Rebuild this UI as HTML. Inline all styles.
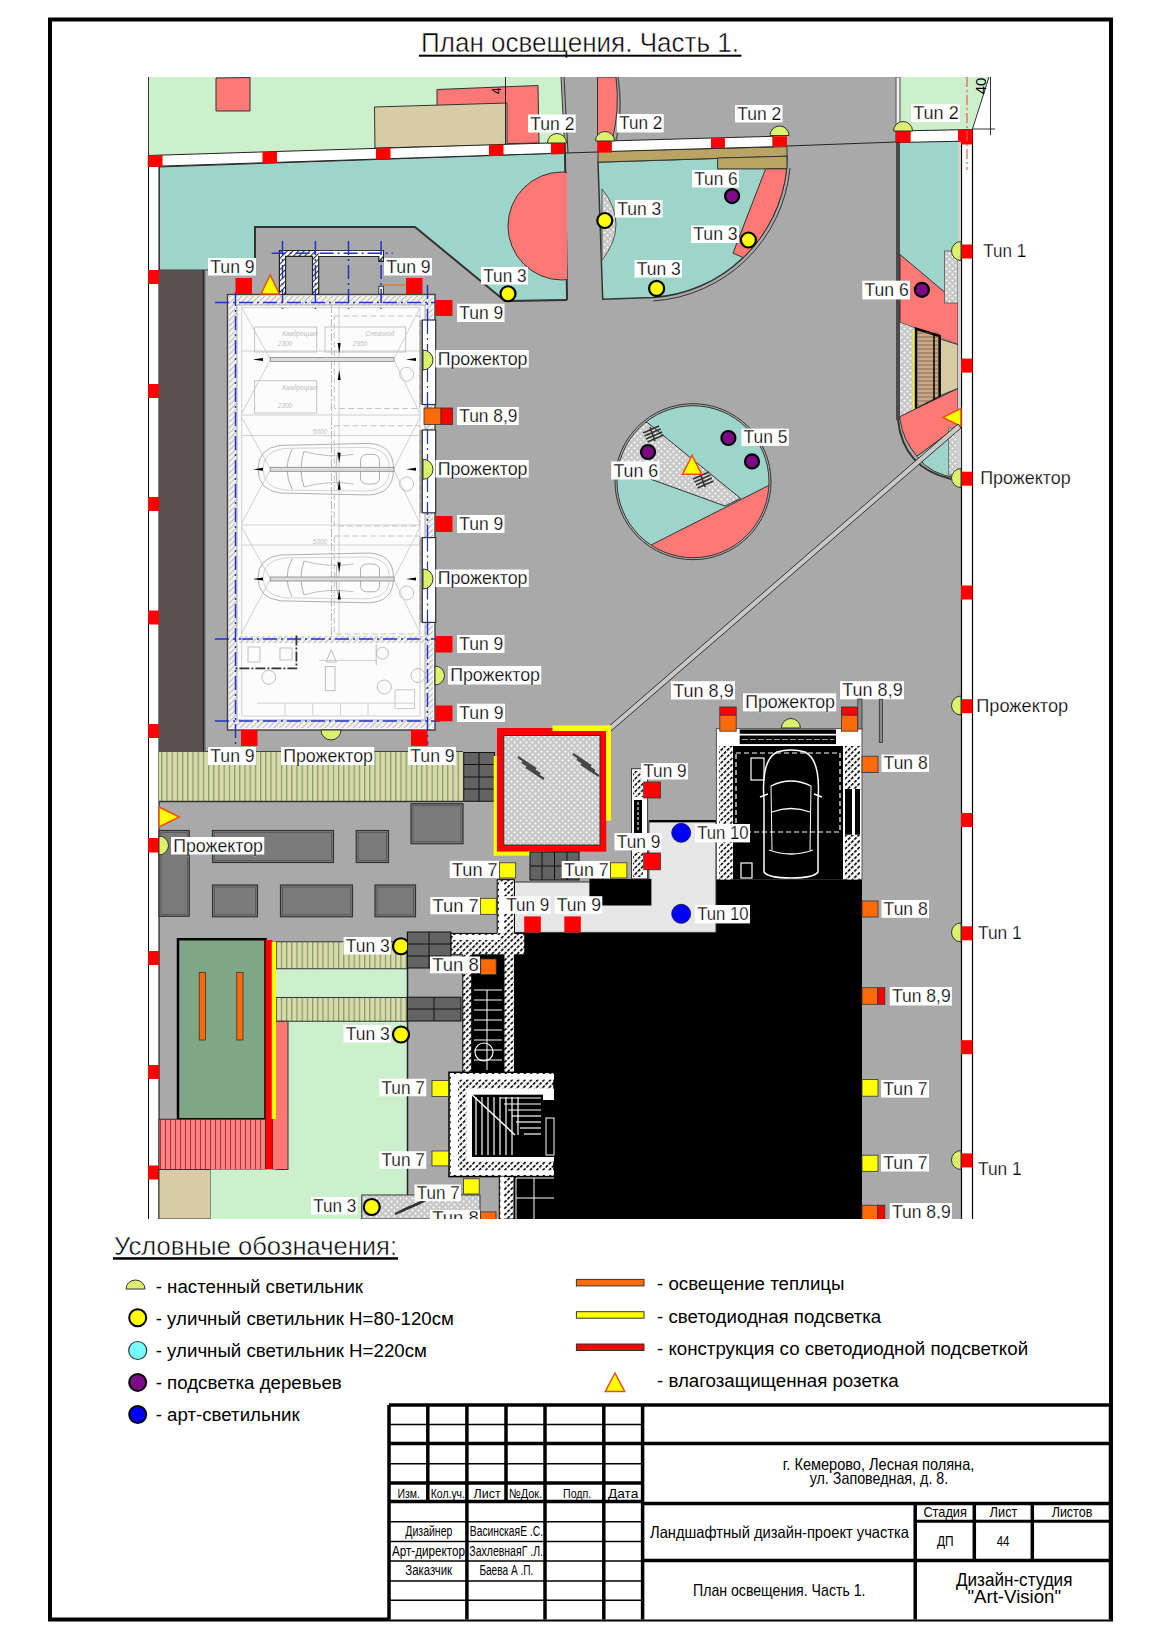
<!DOCTYPE html>
<html><head><meta charset="utf-8"><style>
html,body{margin:0;padding:0;background:#fff;}
svg{display:block;}
text{font-family:"Liberation Sans",sans-serif;}
</style></head><body>
<svg width="1160" height="1640" viewBox="0 0 1160 1640">
<rect x="0" y="0" width="1160" height="1640" fill="#fff" stroke="none" stroke-width="1" />
<defs>
<pattern id="grav" width="6" height="6" patternUnits="userSpaceOnUse"><rect width="6" height="6" fill="#c8c8c8"/><circle cx="1.5" cy="1.5" r="1" fill="#fff"/><circle cx="4.5" cy="4.5" r="1" fill="#fff"/></pattern>
<pattern id="khaki" width="5.2" height="10" patternUnits="userSpaceOnUse"><rect width="5.2" height="10" fill="#d9d9ad"/><rect x="0" width="1.2" height="10" fill="#7f9a62"/></pattern>
<pattern id="pinkstr" width="5" height="10" patternUnits="userSpaceOnUse"><rect width="5" height="10" fill="#f98282"/><rect x="0" width="1" height="10" fill="#a33"/></pattern>
<pattern id="hatch" width="4.5" height="4.5" patternUnits="userSpaceOnUse" patternTransform="rotate(45)"><rect width="4.5" height="4.5" fill="#fff"/><rect width="1.6" height="3.2" fill="#000"/></pattern>
<pattern id="hatchl" width="4" height="4" patternUnits="userSpaceOnUse" patternTransform="rotate(45)"><rect width="4" height="4" fill="#f2f2f2"/><rect width="1" height="4" fill="#bbb"/></pattern>
<pattern id="hatchm" width="4" height="4" patternUnits="userSpaceOnUse" patternTransform="rotate(45)"><rect width="4" height="4" fill="#fff"/><rect width="1.1" height="4" fill="#333"/></pattern>
<clipPath id="plan"><rect x="147.5" y="77" width="843" height="1142"/></clipPath>
</defs>
<g clip-path="url(#plan)">
<rect x="148" y="77" width="813" height="1142" fill="#a9a9a9" stroke="none" stroke-width="1" />
<rect x="961" y="142" width="12" height="1077" fill="#fff" stroke="none" stroke-width="1" />
<line x1="961.5" y1="131" x2="961.5" y2="1219" stroke="#000" stroke-width="1.2" />
<line x1="972.5" y1="131" x2="972.5" y2="1219" stroke="#000" stroke-width="1.2" />
<polygon points="148,77 561,77 565,143 148,156" fill="#ccf0cb" stroke="none" stroke-width="1" />
<line x1="148.5" y1="77" x2="148.5" y2="156" stroke="#333" stroke-width="1" />
<polygon points="216,78 250,77.5 250,111 216,111" fill="#fe7876" stroke="#333" stroke-width="1" />
<polygon points="437,89.5 538,85.5 539,143 437,145" fill="#fe7876" stroke="#333" stroke-width="1" />
<polygon points="374.5,107 507,103 507,145 375,148" fill="#d8cca6" stroke="#333" stroke-width="1" />
<line x1="505.5" y1="77" x2="505.5" y2="146" stroke="#000" stroke-width="0.8" />
<text x="497" y="95" font-size="12" text-anchor="middle" fill="#000" font-family="Liberation Sans" transform="rotate(-90 497 91)">4</text>
<polygon points="159,167 565,153 567,300 505,301 415,227 255,227 255,270 159,270" fill="#9ed5cb" stroke="#333" stroke-width="1" />
<polyline points="255,270 255,227 415,227 505,301" fill="none" stroke="#333" stroke-width="2"/>
<line x1="565" y1="153" x2="567" y2="300" stroke="#333" stroke-width="2" />
<line x1="505" y1="301" x2="567" y2="300" stroke="#333" stroke-width="2" />
<clipPath id="cps"><rect x="400" y="150" width="167" height="160"/></clipPath>
<circle cx="562" cy="226" r="54" fill="#fe7876" stroke="#333" stroke-width="1" clip-path="url(#cps)"/>
<rect x="148" y="156" width="11" height="1063" fill="#fff" stroke="none" stroke-width="1" />
<line x1="148.5" y1="156" x2="148.5" y2="1219" stroke="#000" stroke-width="1" />
<line x1="159" y1="167" x2="159" y2="1219" stroke="#000" stroke-width="1" />
<polygon points="148,155.5 565,142.5 565,153 148,166.5" fill="#fff" stroke="#222" stroke-width="1" />
<polygon points="148,155.5 162.5,155.05 162.5,166.5 148,166.95" fill="#ff0000" stroke="none" stroke-width="1" />
<polygon points="262.5,151.93 277.0,151.48 277.0,162.93 262.5,163.38" fill="#ff0000" stroke="none" stroke-width="1" />
<polygon points="376,148.39 390.5,147.94 390.5,159.39 376,159.84" fill="#ff0000" stroke="none" stroke-width="1" />
<polygon points="489,144.87 503.5,144.42 503.5,155.87 489,156.32" fill="#ff0000" stroke="none" stroke-width="1" />
<polygon points="551,142.94 565.5,142.49 565.5,153.94 551,154.39" fill="#ff0000" stroke="none" stroke-width="1" />
<rect x="148" y="270" width="11" height="14" fill="#ff0000" stroke="none" stroke-width="1" />
<rect x="148" y="384" width="11" height="14" fill="#ff0000" stroke="none" stroke-width="1" />
<rect x="148" y="497" width="11" height="14" fill="#ff0000" stroke="none" stroke-width="1" />
<rect x="148" y="610.5" width="11" height="14.0" fill="#ff0000" stroke="none" stroke-width="1" />
<rect x="148" y="724" width="11" height="14" fill="#ff0000" stroke="none" stroke-width="1" />
<rect x="148" y="838" width="11" height="14" fill="#ff0000" stroke="none" stroke-width="1" />
<rect x="148" y="951" width="11" height="14" fill="#ff0000" stroke="none" stroke-width="1" />
<rect x="148" y="1065" width="11" height="14" fill="#ff0000" stroke="none" stroke-width="1" />
<rect x="148" y="1165.5" width="11" height="14.0" fill="#ff0000" stroke="none" stroke-width="1" />
<line x1="565" y1="153" x2="598" y2="152" stroke="#222" stroke-width="1" />
<line x1="787" y1="146" x2="896" y2="142" stroke="#222" stroke-width="1" />
<line x1="561" y1="77" x2="565" y2="153" stroke="#333" stroke-width="1" />
<line x1="564" y1="77" x2="568" y2="153" stroke="#333" stroke-width="1" />
<path d="M597.5,77 L616,77 Q620,110 612,141 L597.5,142 Z" fill="#fe7876" stroke="#333" stroke-width="1" />
<path d="M618,77 Q623,110 616,141" fill="none" stroke="#555" stroke-width="1.5" />
<path d="M598,162 L787,156 L786.4,168.9 A143.7,143.7 0 0 1 653.4,297.5 L602.7,299.3 Z" fill="#9ed5cb" stroke="#333" stroke-width="1.5" />
<path d="M790,168 A147,147 0 0 1 653.4,301" fill="none" stroke="#333" stroke-width="1" />
<polygon points="598,151.4 787,146.7 787,156.2 598,162.2" fill="#b9a464" stroke="#333" stroke-width="1" />
<polygon points="717.6,158 787,156.2 787,168.9 717.6,168.9" fill="#b9a464" stroke="#333" stroke-width="1" />
<path d="M765.6,168.9 L786.7,168.9 A143.7,143.7 0 0 1 743.2,257.6 L733,253.1 Z" fill="#fe7876" stroke="#333" stroke-width="1" />
<path d="M602,188.8 Q630,224 602,260.3 Z" fill="url(#grav)" stroke="#555" stroke-width="1" />
<polygon points="611,140.9 773,136.3 773,146.7 611,151.4" fill="#fff" stroke="#222" stroke-width="1" />
<rect x="597.2" y="141.8" width="14.5" height="10.8" fill="#ff0000" stroke="none" stroke-width="1" />
<rect x="711" y="138.1" width="13.9" height="10.0" fill="#ff0000" stroke="none" stroke-width="1" />
<rect x="772.8" y="136.3" width="14.2" height="10.4" fill="#ff0000" stroke="none" stroke-width="1" />
<path d="M595.5,141 A9.5,9.5 0 0 1 614.5,141 Z" fill="#daf26c" stroke="#333" stroke-width="1" />
<path d="M770.0,135.5 A9.5,9.5 0 0 1 789.0,135.5 Z" fill="#daf26c" stroke="#333" stroke-width="1" />
<circle cx="604.8" cy="220.5" r="7.5" fill="#ffff00" stroke="#000" stroke-width="2.2" />
<circle cx="748.4" cy="240" r="7.5" fill="#ffff00" stroke="#000" stroke-width="2.2" />
<circle cx="656.6" cy="288.4" r="7.5" fill="#ffff00" stroke="#000" stroke-width="2.2" />
<circle cx="732.1" cy="196.1" r="7" fill="#7d0a86" stroke="#000" stroke-width="2.2" />
<polygon points="900,77 989,77 972.5,129 900,131" fill="#ccf0cb" stroke="none" stroke-width="1" />
<line x1="989" y1="77" x2="972.5" y2="129" stroke="#000" stroke-width="0.8" />
<rect x="896" y="142" width="4" height="278" fill="#4a4a4a" stroke="none" stroke-width="1" />
<rect x="896" y="77" width="4" height="54" fill="#eee" stroke="#555" stroke-width="1" />
<rect x="900" y="142" width="58" height="288" fill="#9ed5cb" stroke="none" stroke-width="1" />
<polygon points="896,131 972.5,129.5 972.5,141 896,142.5" fill="#fff" stroke="#222" stroke-width="1" />
<rect x="896" y="131" width="14.7" height="11.5" fill="#ff0000" stroke="none" stroke-width="1" />
<rect x="958" y="129.5" width="14.5" height="15.0" fill="#ff0000" stroke="none" stroke-width="1" />
<path d="M893.5,131 A9.5,9.5 0 0 1 912.5,131 Z" fill="#daf26c" stroke="#333" stroke-width="1" />
<polygon points="900,254.5 958,303.4 958,344.6 900,322.4" fill="#fe7876" stroke="#333" stroke-width="1" />
<rect x="944.5" y="251" width="13.5" height="52" fill="url(#grav)" stroke="#555" stroke-width="0.8" />
<polygon points="900,322.4 958,344.6 958,388.4 900,416.5" fill="url(#grav)" stroke="none" stroke-width="1" />
<polygon points="940,339 958,344.6 958,388.4 940,395.7" fill="#d8cca6" stroke="#333" stroke-width="1" />
<rect x="913" y="330" width="2.5" height="80" fill="#ffff00" stroke="none" stroke-width="1" />
<polygon points="916,328.7 939.6,336 939.6,397 916,409.3" fill="#c9a98a" stroke="#000" stroke-width="2.5" />
<line x1="917" y1="333" x2="939" y2="333" stroke="#7a5a40" stroke-width="0.8" />
<line x1="917" y1="337" x2="939" y2="337" stroke="#7a5a40" stroke-width="0.8" />
<line x1="917" y1="341" x2="939" y2="341" stroke="#7a5a40" stroke-width="0.8" />
<line x1="917" y1="345" x2="939" y2="345" stroke="#7a5a40" stroke-width="0.8" />
<line x1="917" y1="349" x2="939" y2="349" stroke="#7a5a40" stroke-width="0.8" />
<line x1="917" y1="353" x2="939" y2="353" stroke="#7a5a40" stroke-width="0.8" />
<line x1="917" y1="357" x2="939" y2="357" stroke="#7a5a40" stroke-width="0.8" />
<line x1="917" y1="361" x2="939" y2="361" stroke="#7a5a40" stroke-width="0.8" />
<line x1="917" y1="365" x2="939" y2="365" stroke="#7a5a40" stroke-width="0.8" />
<line x1="917" y1="369" x2="939" y2="369" stroke="#7a5a40" stroke-width="0.8" />
<line x1="917" y1="373" x2="939" y2="373" stroke="#7a5a40" stroke-width="0.8" />
<line x1="917" y1="377" x2="939" y2="377" stroke="#7a5a40" stroke-width="0.8" />
<line x1="917" y1="381" x2="939" y2="381" stroke="#7a5a40" stroke-width="0.8" />
<line x1="917" y1="385" x2="939" y2="385" stroke="#7a5a40" stroke-width="0.8" />
<line x1="917" y1="389" x2="939" y2="389" stroke="#7a5a40" stroke-width="0.8" />
<line x1="917" y1="393" x2="939" y2="393" stroke="#7a5a40" stroke-width="0.8" />
<line x1="917" y1="397" x2="939" y2="397" stroke="#7a5a40" stroke-width="0.8" />
<line x1="917" y1="401" x2="939" y2="401" stroke="#7a5a40" stroke-width="0.8" />
<line x1="917" y1="405" x2="939" y2="405" stroke="#7a5a40" stroke-width="0.8" />
<line x1="934" y1="333" x2="934" y2="402" stroke="#000" stroke-width="1.5" />
<path d="M900,416.5 L958,388.4 L958,426 L917,456.3 Q903,440 900,420 Z" fill="#fe7876" stroke="#333" stroke-width="1" />
<path d="M917,456.3 L958,426 L958,478 Q930,475 917,456.3 Z" fill="#9ed5cb" stroke="#333" stroke-width="1" />
<rect x="948.7" y="428" width="12.3" height="47" fill="url(#grav)" stroke="#555" stroke-width="0.8" />
<path d="M898,420 Q903,468 951,479" fill="none" stroke="#333" stroke-width="2" />
<rect x="958" y="142" width="3" height="338" fill="#d0d0d0" stroke="none" stroke-width="1" />
<polygon points="943.2,417.4 961,408.4 961,426.5" fill="#ffff00" stroke="#e8501a" stroke-width="1.5" />
<rect x="961" y="244.5" width="11.6" height="14.0" fill="#ff0000" stroke="none" stroke-width="1" />
<rect x="961" y="358.6" width="11.6" height="14.0" fill="#ff0000" stroke="none" stroke-width="1" />
<rect x="961" y="471.7" width="11.6" height="14.0" fill="#ff0000" stroke="none" stroke-width="1" />
<rect x="961" y="585.5" width="11.6" height="14.0" fill="#ff0000" stroke="none" stroke-width="1" />
<rect x="961" y="699.2" width="11.6" height="14.0" fill="#ff0000" stroke="none" stroke-width="1" />
<rect x="961" y="813" width="11.6" height="14" fill="#ff0000" stroke="none" stroke-width="1" />
<rect x="961" y="926.3" width="11.6" height="14.0" fill="#ff0000" stroke="none" stroke-width="1" />
<rect x="961" y="1040.2" width="11.6" height="14.0" fill="#ff0000" stroke="none" stroke-width="1" />
<rect x="961" y="1153.4" width="11.6" height="14.0" fill="#ff0000" stroke="none" stroke-width="1" />
<path d="M961,241.5 A9.5,9.5 0 0 0 961,260.5 Z" fill="#daf26c" stroke="#333" stroke-width="1" />
<path d="M961,468.5 A9.5,9.5 0 0 0 961,487.5 Z" fill="#daf26c" stroke="#333" stroke-width="1" />
<path d="M961,696.0 A9.5,9.5 0 0 0 961,715.0 Z" fill="#daf26c" stroke="#333" stroke-width="1" />
<path d="M961,922.9 A9.5,9.5 0 0 0 961,941.9 Z" fill="#daf26c" stroke="#333" stroke-width="1" />
<path d="M961,1150.5 A9.5,9.5 0 0 0 961,1169.5 Z" fill="#daf26c" stroke="#333" stroke-width="1" />
<circle cx="921.9" cy="289.8" r="7" fill="#7d0a86" stroke="#000" stroke-width="2.2" />
<rect x="862.3" y="280.7" width="47.7" height="18.7" fill="#fff" stroke="none" stroke-width="1" />
<text x="864.5" y="296.19" font-size="18.6" textLength="44.2" lengthAdjust="spacingAndGlyphs" font-family="Liberation Sans" stroke="#fff" stroke-width="0.25">Tun 6</text>
<polygon points="958,424 961,428 611,731 607,728" fill="#c8c8c8" stroke="#333" stroke-width="1" />
<clipPath id="rb"><circle cx="693" cy="481.7" r="76"/></clipPath>
<circle cx="693" cy="481.7" r="76" fill="#9ed5cb" stroke="none" stroke-width="1" />
<g clip-path="url(#rb)">
<polygon points="651.7,544.7 768.6,485.5 800,470 800,600 600,600 620,570" fill="#fe7876" stroke="#333" stroke-width="1" />
<polygon points="647.4,422.6 740.5,498.4 725,506 617,467 600,420" fill="url(#grav)" stroke="#333" stroke-width="1" />
</g>
<circle cx="693" cy="481.7" r="76" fill="none" stroke="#333" stroke-width="1" />
<circle cx="693" cy="481.7" r="78" fill="none" stroke="#333" stroke-width="1" />
<circle cx="728.4" cy="438" r="7" fill="#7d0a86" stroke="#000" stroke-width="2.2" />
<circle cx="752" cy="461.4" r="7" fill="#7d0a86" stroke="#000" stroke-width="2.2" />
<circle cx="648" cy="452" r="7" fill="#7d0a86" stroke="#000" stroke-width="2.2" />
<rect x="741.4" y="428.6" width="47.4" height="17.3" fill="#fff" stroke="none" stroke-width="1" />
<text x="743.6" y="443.39" font-size="18.6" textLength="43.9" lengthAdjust="spacingAndGlyphs" font-family="Liberation Sans" stroke="#fff" stroke-width="0.25">Tun 5</text>
<rect x="611.2" y="461.4" width="48.3" height="18.1" fill="#fff" stroke="none" stroke-width="1" />
<text x="613.4" y="476.59" font-size="18.6" textLength="44.8" lengthAdjust="spacingAndGlyphs" font-family="Liberation Sans" stroke="#fff" stroke-width="0.25">Tun 6</text>
<line x1="643.0" y1="433" x2="659.0" y2="426" stroke="#333" stroke-width="1.6" />
<line x1="644.5" y1="436" x2="660.5" y2="429" stroke="#333" stroke-width="1.6" />
<line x1="646.0" y1="439" x2="662.0" y2="432" stroke="#333" stroke-width="1.6" />
<line x1="647.5" y1="442" x2="663.5" y2="435" stroke="#333" stroke-width="1.6" />
<line x1="650" y1="427" x2="655" y2="441" stroke="#333" stroke-width="1.6" />
<line x1="693.0" y1="479" x2="709.0" y2="472" stroke="#333" stroke-width="1.6" />
<line x1="694.5" y1="482" x2="710.5" y2="475" stroke="#333" stroke-width="1.6" />
<line x1="696.0" y1="485" x2="712.0" y2="478" stroke="#333" stroke-width="1.6" />
<line x1="697.5" y1="488" x2="713.5" y2="481" stroke="#333" stroke-width="1.6" />
<line x1="700" y1="473" x2="705" y2="487" stroke="#333" stroke-width="1.6" />
<polygon points="682.4,474.3 701.7,474.3 692.05,455.3" fill="#ffff00" stroke="#e8501a" stroke-width="1.5" />
<rect x="159" y="270" width="43.5" height="483.75" fill="#5b4f50" stroke="none" stroke-width="1" />
<line x1="203.5" y1="270" x2="203.5" y2="753.75" stroke="#222" stroke-width="2" />
<line x1="205.5" y1="270" x2="205.5" y2="753.75" stroke="#888" stroke-width="1" />
<rect x="227.5" y="294.5" width="207.5" height="435.5" fill="#fcfcfc" stroke="#444" stroke-width="1.5" />
<rect x="229" y="296" width="204" height="9" fill="url(#hatchl)" stroke="none" stroke-width="1" />
<rect x="229" y="296" width="8" height="432" fill="url(#hatchl)" stroke="none" stroke-width="1" />
<rect x="229" y="720" width="204" height="8" fill="url(#hatchl)" stroke="none" stroke-width="1" />
<rect x="425" y="296" width="8" height="432" fill="url(#hatchl)" stroke="none" stroke-width="1" />
<rect x="237" y="305" width="188" height="415" fill="none" stroke="#aaa" stroke-width="1" />
<rect x="229" y="636" width="196" height="7" fill="url(#hatchl)" stroke="none" stroke-width="1" />
<path d="M279.4,294.5 L279.4,250.5 L383.4,250.5 L383.4,261.4 L378.8,261.4 L378.8,256.4 L318.7,256.4 L318.7,294.5 L312.5,294.5 L312.5,256.4 L285.6,256.4 L285.6,294.5 Z" fill="url(#hatchm)" stroke="#222" stroke-width="1.2" />
<rect x="318.7" y="250.9" width="64.3" height="5.1" fill="#fff" stroke="none" stroke-width="1" />
<rect x="378.8" y="286.2" width="4.6" height="7.8" fill="#fff" stroke="#333" stroke-width="1" />
<line x1="215" y1="302.5" x2="440" y2="302.5" stroke="#2233cc" stroke-width="1.5" stroke-dasharray="14,4,2,4"/>
<line x1="235.5" y1="292" x2="235.5" y2="745" stroke="#2233cc" stroke-width="1.5" stroke-dasharray="14,4,2,4"/>
<line x1="427.5" y1="285" x2="427.5" y2="745" stroke="#2233cc" stroke-width="1.5" stroke-dasharray="14,4,2,4"/>
<line x1="215" y1="639" x2="440" y2="639" stroke="#2233cc" stroke-width="1.5" stroke-dasharray="14,4,2,4"/>
<line x1="215" y1="721" x2="440" y2="721" stroke="#2233cc" stroke-width="1.5" stroke-dasharray="14,4,2,4"/>
<line x1="282.5" y1="241" x2="282.5" y2="312" stroke="#2233cc" stroke-width="1.5" stroke-dasharray="14,4,2,4"/>
<line x1="315.4" y1="241" x2="315.4" y2="312" stroke="#2233cc" stroke-width="1.5" stroke-dasharray="14,4,2,4"/>
<line x1="348.5" y1="241" x2="348.5" y2="312" stroke="#2233cc" stroke-width="1.5" stroke-dasharray="14,4,2,4"/>
<line x1="381.1" y1="241" x2="381.1" y2="312" stroke="#2233cc" stroke-width="1.5" stroke-dasharray="14,4,2,4"/>
<line x1="271.6" y1="253.3" x2="392.8" y2="253.3" stroke="#2233cc" stroke-width="1.5" stroke-dasharray="14,4,2,4"/>
<rect x="241.7" y="307.6" width="178.3" height="408.4" fill="none" stroke="#cfcfcf" stroke-width="1" />
<line x1="331.5" y1="305" x2="331.5" y2="636" stroke="#bbb" stroke-width="1" stroke-dasharray="8,2,2,2"/>
<line x1="339" y1="305" x2="339" y2="636" stroke="#c4c4c4" stroke-width="0.8" />
<rect x="254.6" y="327" width="62.1" height="25" fill="none" stroke="#c4c4c4" stroke-width="1" />
<rect x="325" y="327" width="80.6" height="25" fill="none" stroke="#c4c4c4" stroke-width="1" />
<rect x="254.6" y="380.7" width="62.1" height="32.3" fill="none" stroke="#c4c4c4" stroke-width="1" />
<rect x="334.3" y="316" width="85.2" height="92.5" fill="none" stroke="#c4c4c4" stroke-width="1" stroke-dasharray="6,3"/>
<rect x="334.3" y="425.7" width="85.2" height="100.3" fill="none" stroke="#c4c4c4" stroke-width="1" stroke-dasharray="6,3"/>
<rect x="334.3" y="536" width="85.2" height="98" fill="none" stroke="#c4c4c4" stroke-width="1" stroke-dasharray="6,3"/>
<line x1="241.7" y1="351" x2="420" y2="351" stroke="#c4c4c4" stroke-width="0.8" />
<line x1="241.7" y1="415" x2="420" y2="415" stroke="#c4c4c4" stroke-width="0.8" />
<line x1="241.7" y1="435.6" x2="420" y2="435.6" stroke="#c4c4c4" stroke-width="0.8" />
<line x1="241.7" y1="525" x2="420" y2="525" stroke="#c4c4c4" stroke-width="0.8" />
<line x1="241.7" y1="545" x2="420" y2="545" stroke="#c4c4c4" stroke-width="0.8" />
<line x1="241.7" y1="307.5" x2="270.4" y2="359.5" stroke="#c4c4c4" stroke-width="0.8" />
<line x1="420" y1="307.5" x2="393.6" y2="359.5" stroke="#c4c4c4" stroke-width="0.8" />
<line x1="241.7" y1="413.5" x2="270.4" y2="359.5" stroke="#c4c4c4" stroke-width="0.8" />
<line x1="420" y1="413.5" x2="393.6" y2="359.5" stroke="#c4c4c4" stroke-width="0.8" />
<line x1="241.7" y1="417.3" x2="270.4" y2="469.3" stroke="#c4c4c4" stroke-width="0.8" />
<line x1="420" y1="417.3" x2="393.6" y2="469.3" stroke="#c4c4c4" stroke-width="0.8" />
<line x1="241.7" y1="523.3" x2="270.4" y2="469.3" stroke="#c4c4c4" stroke-width="0.8" />
<line x1="420" y1="523.3" x2="393.6" y2="469.3" stroke="#c4c4c4" stroke-width="0.8" />
<line x1="241.7" y1="527" x2="270.4" y2="579" stroke="#c4c4c4" stroke-width="0.8" />
<line x1="420" y1="527" x2="393.6" y2="579" stroke="#c4c4c4" stroke-width="0.8" />
<line x1="241.7" y1="633" x2="270.4" y2="579" stroke="#c4c4c4" stroke-width="0.8" />
<line x1="420" y1="633" x2="393.6" y2="579" stroke="#c4c4c4" stroke-width="0.8" />
<circle cx="406.6" cy="374.3" r="7" fill="none" stroke="#c4c4c4" stroke-width="1" />
<circle cx="406.6" cy="484" r="7" fill="none" stroke="#c4c4c4" stroke-width="1" />
<circle cx="406.6" cy="593" r="7" fill="none" stroke="#c4c4c4" stroke-width="1" />
<text x="300" y="336" font-size="6.5" text-anchor="middle" fill="#bdbdbd" font-family="Liberation Sans" font-style="italic">Квадроцикл</text>
<text x="380" y="336" font-size="6.5" text-anchor="middle" fill="#bdbdbd" font-family="Liberation Sans" font-style="italic">Снегоход</text>
<text x="300" y="390" font-size="6.5" text-anchor="middle" fill="#bdbdbd" font-family="Liberation Sans" font-style="italic">Квадроцикл</text>
<text x="285" y="346" font-size="6.5" text-anchor="middle" fill="#bdbdbd" font-family="Liberation Sans" font-style="italic">2300</text>
<text x="360" y="346" font-size="6.5" text-anchor="middle" fill="#bdbdbd" font-family="Liberation Sans" font-style="italic">2950</text>
<text x="285" y="408" font-size="6.5" text-anchor="middle" fill="#bdbdbd" font-family="Liberation Sans" font-style="italic">2300</text>
<text x="320" y="434" font-size="6.5" text-anchor="middle" fill="#bdbdbd" font-family="Liberation Sans" font-style="italic">5000</text>
<text x="320" y="544" font-size="6.5" text-anchor="middle" fill="#bdbdbd" font-family="Liberation Sans" font-style="italic">5000</text>
<path d="M280,445.4 L368.5,443.4 Q393.5,444.4 393.5,469.2 Q393.5,494 368.5,495 L280,493 Q258,490 258,469.2 Q258,448.4 280,445.4 Z" fill="none" stroke="#b0b0b0" stroke-width="1" />
<path d="M284,448.4 L365.5,447.4 Q389.5,448.4 389.5,469.2 Q389.5,490 365.5,491 L284,490 Q263,487 263,469.2 Q263,451.4 284,448.4 Z" fill="none" stroke="#c8c8c8" stroke-width="0.8" />
<path d="M292,449.4 Q282,469.2 292,489" fill="none" stroke="#b0b0b0" stroke-width="1" />
<path d="M304,451.4 Q298,469.2 304,487" fill="none" stroke="#b0b0b0" stroke-width="1" />
<path d="M338,451.4 Q334,469.2 338,487" fill="none" stroke="#b0b0b0" stroke-width="1" />
<rect x="360.5" y="454.4" width="19.0" height="29.6" fill="none" stroke="#b0b0b0" stroke-width="1" rx="6"/>
<path d="M304,451.4 Q328,458.4 353.5,454.4" fill="none" stroke="#b0b0b0" stroke-width="0.8" />
<path d="M304,487 Q328,480 353.5,484" fill="none" stroke="#b0b0b0" stroke-width="0.8" />
<path d="M280,555 L368.5,553 Q393.5,554 393.5,577.9 Q393.5,601.8 368.5,602.8 L280,600.8 Q258,597.8 258,577.9 Q258,558 280,555 Z" fill="none" stroke="#b0b0b0" stroke-width="1" />
<path d="M284,558 L365.5,557 Q389.5,558 389.5,577.9 Q389.5,597.8 365.5,598.8 L284,597.8 Q263,594.8 263,577.9 Q263,561 284,558 Z" fill="none" stroke="#c8c8c8" stroke-width="0.8" />
<path d="M292,559 Q282,577.9 292,596.8" fill="none" stroke="#b0b0b0" stroke-width="1" />
<path d="M304,561 Q298,577.9 304,594.8" fill="none" stroke="#b0b0b0" stroke-width="1" />
<path d="M338,561 Q334,577.9 338,594.8" fill="none" stroke="#b0b0b0" stroke-width="1" />
<rect x="360.5" y="564" width="19.0" height="27.8" fill="none" stroke="#b0b0b0" stroke-width="1" rx="6"/>
<path d="M304,561 Q328,568 353.5,564" fill="none" stroke="#b0b0b0" stroke-width="0.8" />
<path d="M304,594.8 Q328,587.8 353.5,591.8" fill="none" stroke="#b0b0b0" stroke-width="0.8" />
<rect x="270.3" y="357.5" width="123.7" height="4.0" fill="#ddd" stroke="#888" stroke-width="0.8" />
<polygon points="253,359.5 263,358.0 263,361.0" fill="#000" stroke="none" stroke-width="1" />
<polygon points="406,359.5 416,358.0 416,361.0" fill="#000" stroke="none" stroke-width="1" />
<polygon points="339.2,353.5 337.7,343.0 340.7,343.0" fill="#000" stroke="none" stroke-width="1" />
<polygon points="339.2,370.0 337.7,380.0 340.7,380.0" fill="#000" stroke="none" stroke-width="1" />
<rect x="270.3" y="467.3" width="123.7" height="4.0" fill="#ddd" stroke="#888" stroke-width="0.8" />
<polygon points="253,469.3 263,467.8 263,470.8" fill="#000" stroke="none" stroke-width="1" />
<polygon points="406,469.3 416,467.8 416,470.8" fill="#000" stroke="none" stroke-width="1" />
<polygon points="339.2,463.3 337.7,452.8 340.7,452.8" fill="#000" stroke="none" stroke-width="1" />
<polygon points="339.2,479.8 337.7,489.8 340.7,489.8" fill="#000" stroke="none" stroke-width="1" />
<rect x="270.3" y="577" width="123.7" height="4" fill="#ddd" stroke="#888" stroke-width="0.8" />
<polygon points="253,579 263,577.5 263,580.5" fill="#000" stroke="none" stroke-width="1" />
<polygon points="406,579 416,577.5 416,580.5" fill="#000" stroke="none" stroke-width="1" />
<polygon points="339.2,573 337.7,562.5 340.7,562.5" fill="#000" stroke="none" stroke-width="1" />
<polygon points="339.2,589.5 337.7,599.5 340.7,599.5" fill="#000" stroke="none" stroke-width="1" />
<rect x="419.7" y="320" width="2.6" height="84.5" fill="#a0a0a0" stroke="none" stroke-width="1" />
<rect x="422.3" y="320" width="13.4" height="84.5" fill="#fff" stroke="#333" stroke-width="1.2" />
<line x1="427.5" y1="320" x2="427.5" y2="404.5" stroke="#2233cc" stroke-width="1.2" stroke-dasharray="14,4,2,4"/>
<rect x="419.7" y="430" width="2.6" height="82.8" fill="#a0a0a0" stroke="none" stroke-width="1" />
<rect x="422.3" y="430" width="13.4" height="82.8" fill="#fff" stroke="#333" stroke-width="1.2" />
<line x1="427.5" y1="430" x2="427.5" y2="512.8" stroke="#2233cc" stroke-width="1.2" stroke-dasharray="14,4,2,4"/>
<rect x="419.7" y="537.6" width="2.6" height="84.8" fill="#a0a0a0" stroke="none" stroke-width="1" />
<rect x="422.3" y="537.6" width="13.4" height="84.8" fill="#fff" stroke="#333" stroke-width="1.2" />
<line x1="427.5" y1="537.6" x2="427.5" y2="622.4" stroke="#2233cc" stroke-width="1.2" stroke-dasharray="14,4,2,4"/>
<path d="M296.4,635.4 L296.4,668.4 L233.4,668.4" fill="none" stroke="#333" stroke-width="1.8" stroke-dasharray="10,2,2,2"/>
<line x1="257" y1="703.2" x2="415" y2="703.2" stroke="#c4c4c4" stroke-width="0.8" />
<line x1="285" y1="703.2" x2="285" y2="714.8" stroke="#c4c4c4" stroke-width="0.8" />
<line x1="312.8" y1="703.2" x2="312.8" y2="714.8" stroke="#c4c4c4" stroke-width="0.8" />
<line x1="340.5" y1="703.2" x2="340.5" y2="714.8" stroke="#c4c4c4" stroke-width="0.8" />
<line x1="368" y1="703.2" x2="368" y2="714.8" stroke="#c4c4c4" stroke-width="0.8" />
<circle cx="268.7" cy="677.3" r="7" fill="none" stroke="#b5b5b5" stroke-width="0.9" />
<circle cx="384.3" cy="687" r="7" fill="none" stroke="#b5b5b5" stroke-width="0.9" />
<circle cx="418" cy="675.5" r="7" fill="none" stroke="#b5b5b5" stroke-width="0.9" />
<circle cx="382.5" cy="653.2" r="6" fill="none" stroke="#b5b5b5" stroke-width="0.9" />
<rect x="395" y="689.8" width="19.6" height="18.8" fill="none" stroke="#c4c4c4" stroke-width="0.9" />
<rect x="325.3" y="666.6" width="9.7" height="24.1" fill="none" stroke="#b5b5b5" stroke-width="0.9" />
<polygon points="331.2,649.6 326,662 336.4,662" fill="none" stroke="#b5b5b5" stroke-width="0.9" />
<line x1="376.2" y1="644" x2="376.2" y2="665" stroke="#b5b5b5" stroke-width="0.9" />
<line x1="319" y1="660.4" x2="376" y2="660.4" stroke="#c4c4c4" stroke-width="0.8" />
<rect x="248" y="647" width="12" height="15" fill="none" stroke="#bbb" stroke-width="0.9" />
<rect x="280" y="648" width="12" height="12" fill="none" stroke="#bbb" stroke-width="0.9" />
<rect x="235.5" y="278" width="16.5" height="16" fill="#ff0000" stroke="none" stroke-width="1" />
<polygon points="261,294 279.4,294 270.2,275" fill="#ffff00" stroke="#e8501a" stroke-width="1.5" />
<rect x="406" y="278" width="16.5" height="16" fill="#ff0000" stroke="none" stroke-width="1" />
<line x1="383.4" y1="285" x2="406" y2="285" stroke="#e8601a" stroke-width="1" />
<rect x="208" y="258" width="48" height="17.5" fill="#fff" stroke="none" stroke-width="1" />
<text x="210.2" y="272.89" font-size="18.6" textLength="44.5" lengthAdjust="spacingAndGlyphs" font-family="Liberation Sans" stroke="#fff" stroke-width="0.25">Tun 9</text>
<rect x="384" y="258" width="48" height="17.5" fill="#fff" stroke="none" stroke-width="1" />
<text x="386.2" y="272.89" font-size="18.6" textLength="44.5" lengthAdjust="spacingAndGlyphs" font-family="Liberation Sans" stroke="#fff" stroke-width="0.25">Tun 9</text>
<rect x="435.5" y="300" width="17.0" height="16" fill="#ff0000" stroke="none" stroke-width="1" />
<rect x="457" y="303.75" width="47.5" height="18.25" fill="#fff" stroke="none" stroke-width="1" />
<text x="459.2" y="319.01" font-size="18.6" textLength="44.0" lengthAdjust="spacingAndGlyphs" font-family="Liberation Sans" stroke="#fff" stroke-width="0.25">Tun 9</text>
<path d="M423,350 A10,10 0 0 1 423,370 Z" fill="#daf26c" stroke="#333" stroke-width="1" />
<rect x="435.5" y="350" width="93.25" height="17.5" fill="#fff" stroke="none" stroke-width="1" />
<text x="437.7" y="364.89" font-size="18.6" textLength="89.8" lengthAdjust="spacingAndGlyphs" font-family="Liberation Sans" stroke="#fff" stroke-width="0.25">Прожектор</text>
<rect x="424" y="408" width="17" height="16.5" fill="#fd6a0a" stroke="#333" stroke-width="0.8" />
<rect x="441" y="408" width="11.5" height="16.5" fill="#ff0000" stroke="#333" stroke-width="0.8" />
<rect x="457" y="407" width="61.75" height="18" fill="#fff" stroke="none" stroke-width="1" />
<text x="459.2" y="422.14" font-size="18.6" textLength="58.2" lengthAdjust="spacingAndGlyphs" font-family="Liberation Sans" stroke="#fff" stroke-width="0.25">Tun 8,9</text>
<path d="M423,459.3 A10,10 0 0 1 423,479.3 Z" fill="#daf26c" stroke="#333" stroke-width="1" />
<rect x="435.5" y="460" width="93.25" height="17.5" fill="#fff" stroke="none" stroke-width="1" />
<text x="437.7" y="474.89" font-size="18.6" textLength="89.8" lengthAdjust="spacingAndGlyphs" font-family="Liberation Sans" stroke="#fff" stroke-width="0.25">Прожектор</text>
<rect x="435.5" y="516" width="17.0" height="16" fill="#ff0000" stroke="none" stroke-width="1" />
<rect x="457" y="515" width="47.5" height="18" fill="#fff" stroke="none" stroke-width="1" />
<text x="459.2" y="530.14" font-size="18.6" textLength="44.0" lengthAdjust="spacingAndGlyphs" font-family="Liberation Sans" stroke="#fff" stroke-width="0.25">Tun 9</text>
<path d="M423,569 A10,10 0 0 1 423,589 Z" fill="#daf26c" stroke="#333" stroke-width="1" />
<rect x="435.5" y="569.5" width="93.25" height="17.5" fill="#fff" stroke="none" stroke-width="1" />
<text x="437.7" y="584.39" font-size="18.6" textLength="89.8" lengthAdjust="spacingAndGlyphs" font-family="Liberation Sans" stroke="#fff" stroke-width="0.25">Прожектор</text>
<rect x="435.5" y="636" width="17.0" height="16.5" fill="#ff0000" stroke="none" stroke-width="1" />
<rect x="457" y="635" width="47.5" height="18" fill="#fff" stroke="none" stroke-width="1" />
<text x="459.2" y="650.14" font-size="18.6" textLength="44.0" lengthAdjust="spacingAndGlyphs" font-family="Liberation Sans" stroke="#fff" stroke-width="0.25">Tun 9</text>
<path d="M435,666.0 A9.5,9.5 0 0 1 435,685.0 Z" fill="#daf26c" stroke="#333" stroke-width="1" />
<rect x="448" y="666" width="93.25" height="18.5" fill="#fff" stroke="none" stroke-width="1" />
<text x="450.2" y="681.39" font-size="18.6" textLength="89.8" lengthAdjust="spacingAndGlyphs" font-family="Liberation Sans" stroke="#fff" stroke-width="0.25">Прожектор</text>
<rect x="435.5" y="705.5" width="17.0" height="15.75" fill="#ff0000" stroke="none" stroke-width="1" />
<rect x="457" y="703.75" width="48" height="18.25" fill="#fff" stroke="none" stroke-width="1" />
<text x="459.2" y="719.01" font-size="18.6" textLength="44.5" lengthAdjust="spacingAndGlyphs" font-family="Liberation Sans" stroke="#fff" stroke-width="0.25">Tun 9</text>
<rect x="241" y="730" width="16.5" height="16" fill="#ff0000" stroke="none" stroke-width="1" />
<rect x="411" y="730" width="16.5" height="16" fill="#ff0000" stroke="none" stroke-width="1" />
<path d="M321,730 A10,10 0 0 0 341,730 Z" fill="#daf26c" stroke="#333" stroke-width="1" />
<line x1="205" y1="752" x2="463" y2="752" stroke="#222" stroke-width="1.5" />
<rect x="159" y="752" width="304" height="49.25" fill="url(#khaki)" stroke="none" stroke-width="1" />
<line x1="159" y1="801.5" x2="463" y2="801.5" stroke="#333" stroke-width="1.5" />
<rect x="208" y="747" width="48" height="18" fill="#fff" stroke="none" stroke-width="1" />
<text x="210.2" y="762.14" font-size="18.6" textLength="44.5" lengthAdjust="spacingAndGlyphs" font-family="Liberation Sans" stroke="#fff" stroke-width="0.25">Tun 9</text>
<rect x="281" y="747" width="93.25" height="18" fill="#fff" stroke="none" stroke-width="1" />
<text x="283.2" y="762.14" font-size="18.6" textLength="89.8" lengthAdjust="spacingAndGlyphs" font-family="Liberation Sans" stroke="#fff" stroke-width="0.25">Прожектор</text>
<rect x="408" y="747" width="48" height="18" fill="#fff" stroke="none" stroke-width="1" />
<text x="410.2" y="762.14" font-size="18.6" textLength="44.5" lengthAdjust="spacingAndGlyphs" font-family="Liberation Sans" stroke="#fff" stroke-width="0.25">Tun 9</text>
<rect x="463.75" y="752.5" width="30.75" height="48.75" fill="#636363" stroke="#111" stroke-width="1" />
<line x1="463.75" y1="764.5" x2="494.5" y2="764.5" stroke="#111" stroke-width="1" />
<line x1="463.75" y1="777" x2="494.5" y2="777" stroke="#111" stroke-width="1" />
<line x1="463.75" y1="789" x2="494.5" y2="789" stroke="#111" stroke-width="1" />
<line x1="479" y1="752.5" x2="479" y2="801.25" stroke="#111" stroke-width="1" />
<rect x="159" y="830.5" width="30.25" height="85.75" fill="#7b7b7b" stroke="#333" stroke-width="1.2" />
<rect x="161" y="832.5" width="26.25" height="81.75" fill="none" stroke="#555" stroke-width="0.8" />
<rect x="212.5" y="830.5" width="121.0" height="32.0" fill="#7b7b7b" stroke="#333" stroke-width="1.2" />
<rect x="214.5" y="832.5" width="117.0" height="28.0" fill="none" stroke="#555" stroke-width="0.8" />
<rect x="356.25" y="830.5" width="32.25" height="32.0" fill="#7b7b7b" stroke="#333" stroke-width="1.2" />
<rect x="358.25" y="832.5" width="28.25" height="28.0" fill="none" stroke="#555" stroke-width="0.8" />
<rect x="411" y="803.75" width="52" height="40.0" fill="#7b7b7b" stroke="#333" stroke-width="1.2" />
<rect x="413" y="805.75" width="48" height="36.0" fill="none" stroke="#555" stroke-width="0.8" />
<rect x="212.5" y="885" width="45.0" height="31.75" fill="#7b7b7b" stroke="#333" stroke-width="1.2" />
<rect x="214.5" y="887" width="41.0" height="27.75" fill="none" stroke="#555" stroke-width="0.8" />
<rect x="280.5" y="885" width="72.0" height="31.75" fill="#7b7b7b" stroke="#333" stroke-width="1.2" />
<rect x="282.5" y="887" width="68.0" height="27.75" fill="none" stroke="#555" stroke-width="0.8" />
<rect x="375" y="885" width="40.5" height="31.75" fill="#7b7b7b" stroke="#333" stroke-width="1.2" />
<rect x="377" y="887" width="36.5" height="27.75" fill="none" stroke="#555" stroke-width="0.8" />
<polygon points="159,807 179.25,817 159,827" fill="#ffff00" stroke="#e8501a" stroke-width="1.5" />
<rect x="148" y="838" width="11" height="14.5" fill="#ff0000" stroke="none" stroke-width="1" />
<path d="M159,836.0 A9.5,9.5 0 0 1 159,855.0 Z" fill="#daf26c" stroke="#333" stroke-width="1" />
<rect x="171" y="837" width="93.25" height="17.5" fill="#fff" stroke="none" stroke-width="1" />
<text x="173.2" y="851.89" font-size="18.6" textLength="89.8" lengthAdjust="spacingAndGlyphs" font-family="Liberation Sans" stroke="#fff" stroke-width="0.25">Прожектор</text>
<rect x="497" y="728" width="109.25" height="123.7" fill="#ff0000" stroke="none" stroke-width="1" />
<rect x="503.75" y="735.5" width="96.25" height="109.5" fill="url(#grav)" stroke="#333" stroke-width="1" />
<rect x="552.5" y="725.5" width="58.5" height="5.5" fill="#ffff00" stroke="none" stroke-width="1" />
<rect x="606" y="725.5" width="5" height="95.0" fill="#ffff00" stroke="none" stroke-width="1" />
<rect x="493.75" y="756" width="3.25" height="99.6" fill="#ffff00" stroke="none" stroke-width="1" />
<rect x="493.75" y="851.7" width="58.15" height="3.9" fill="#ffff00" stroke="none" stroke-width="1" />
<line x1="518" y1="757" x2="536" y2="769" stroke="#444" stroke-width="2.2" />
<line x1="522" y1="762" x2="540" y2="774" stroke="#444" stroke-width="2.2" />
<line x1="526" y1="767" x2="544" y2="779" stroke="#444" stroke-width="2.2" />
<line x1="573" y1="754" x2="591" y2="766" stroke="#444" stroke-width="2.2" />
<line x1="577" y1="759" x2="595" y2="771" stroke="#444" stroke-width="2.2" />
<line x1="581" y1="764" x2="599" y2="776" stroke="#444" stroke-width="2.2" />
<rect x="530" y="852" width="49" height="28" fill="#636363" stroke="#111" stroke-width="1" />
<line x1="530" y1="866" x2="579" y2="866" stroke="#111" stroke-width="1" />
<line x1="542" y1="852" x2="542" y2="880" stroke="#111" stroke-width="1" />
<line x1="554.5" y1="852" x2="554.5" y2="880" stroke="#111" stroke-width="1" />
<line x1="567" y1="852" x2="567" y2="880" stroke="#111" stroke-width="1" />
<rect x="276" y="941.75" width="131" height="277.25" fill="#ccf0cb" stroke="none" stroke-width="1" />
<line x1="407.5" y1="932" x2="407.5" y2="1219" stroke="#222" stroke-width="1.5" />
<rect x="276" y="941.75" width="131" height="27.0" fill="url(#khaki)" stroke="#333" stroke-width="1" />
<rect x="276" y="997.5" width="131" height="23.75" fill="url(#khaki)" stroke="#333" stroke-width="1" />
<rect x="178" y="939.25" width="87.5" height="180.0" fill="#7ea786" stroke="#000" stroke-width="2.5" />
<rect x="199.25" y="972.5" width="6.25" height="67.5" fill="#fd6a0a" stroke="#333" stroke-width="0.8" />
<rect x="236.75" y="972.5" width="6.25" height="67.5" fill="#fd6a0a" stroke="#333" stroke-width="0.8" />
<rect x="272.5" y="1021.25" width="15.5" height="148.25" fill="#fe7876" stroke="#333" stroke-width="1" />
<rect x="265.5" y="940" width="7.0" height="229.5" fill="#ff0000" stroke="none" stroke-width="1" />
<rect x="271.75" y="942" width="4.25" height="177" fill="#ffff00" stroke="none" stroke-width="1" />
<rect x="159" y="1119.25" width="106.5" height="50.25" fill="url(#pinkstr)" stroke="#333" stroke-width="1" />
<rect x="159" y="1169.5" width="51.5" height="49.5" fill="#d8cca6" stroke="#333" stroke-width="1" />
<rect x="210.5" y="1169.5" width="65.5" height="49.5" fill="#ccf0cb" stroke="none" stroke-width="1" />
<circle cx="401" cy="946.25" r="8" fill="#ffff00" stroke="#000" stroke-width="2.2" />
<rect x="343.5" y="937" width="47.5" height="17.5" fill="#fff" stroke="none" stroke-width="1" />
<text x="345.7" y="951.89" font-size="18.6" textLength="44.0" lengthAdjust="spacingAndGlyphs" font-family="Liberation Sans" stroke="#fff" stroke-width="0.25">Tun 3</text>
<circle cx="401" cy="1034.5" r="8" fill="#ffff00" stroke="#000" stroke-width="2.2" />
<rect x="343.5" y="1025" width="47.5" height="17.5" fill="#fff" stroke="none" stroke-width="1" />
<text x="345.7" y="1039.89" font-size="18.6" textLength="44.0" lengthAdjust="spacingAndGlyphs" font-family="Liberation Sans" stroke="#fff" stroke-width="0.25">Tun 3</text>
<rect x="407.5" y="932" width="43.5" height="36" fill="#636363" stroke="#111" stroke-width="1" />
<line x1="407.5" y1="944" x2="451" y2="944" stroke="#111" stroke-width="1" />
<line x1="407.5" y1="956" x2="451" y2="956" stroke="#111" stroke-width="1" />
<line x1="429" y1="932" x2="451" y2="932" stroke="#111" stroke-width="0" />
<line x1="429" y1="932" x2="429" y2="968" stroke="#111" stroke-width="1" />
<rect x="407.5" y="997.2" width="53.5" height="23.8" fill="#636363" stroke="#111" stroke-width="1" />
<line x1="407.5" y1="1009" x2="461" y2="1009" stroke="#111" stroke-width="1" />
<line x1="434" y1="997.2" x2="434" y2="1021" stroke="#111" stroke-width="1" />
<polygon points="514.4,932.4 716,932.4 716,879.5 862,879.5 862,1219 554,1219 554,1079 513.8,1079" fill="#000" stroke="none" stroke-width="1" />
<polygon points="514.4,882 648.9,882 648.9,822 716,822 716,932.4 514.4,932.4" fill="#e6e6e6" stroke="#333" stroke-width="1" />
<line x1="648.9" y1="821" x2="716" y2="821" stroke="#000" stroke-width="2" />
<rect x="589.4" y="878.9" width="62.0" height="26.6" fill="#000" stroke="none" stroke-width="1" />
<rect x="631.5" y="768.75" width="16.1" height="110.15" fill="#fff" stroke="#333" stroke-width="1" />
<rect x="633" y="771" width="10" height="26" fill="url(#hatch)" stroke="none" stroke-width="1" />
<rect x="634" y="800" width="8" height="33" fill="#000" stroke="none" stroke-width="1" />
<line x1="638" y1="802" x2="638" y2="831" stroke="#fff" stroke-width="1" stroke-dasharray="3,2"/>
<rect x="633" y="852" width="10" height="25" fill="url(#hatch)" stroke="none" stroke-width="1" />
<rect x="471.4" y="955" width="32.6" height="117.8" fill="#000" stroke="none" stroke-width="1" />
<line x1="474" y1="990" x2="502" y2="990" stroke="#fff" stroke-width="1" />
<line x1="474" y1="1000" x2="502" y2="1000" stroke="#fff" stroke-width="1" />
<line x1="474" y1="1010" x2="502" y2="1010" stroke="#fff" stroke-width="1" />
<line x1="474" y1="1020" x2="502" y2="1020" stroke="#fff" stroke-width="1" />
<line x1="474" y1="1030" x2="502" y2="1030" stroke="#fff" stroke-width="1" />
<line x1="474" y1="1040" x2="502" y2="1040" stroke="#fff" stroke-width="1" />
<line x1="474" y1="1050" x2="502" y2="1050" stroke="#fff" stroke-width="1" />
<line x1="474" y1="1060" x2="502" y2="1060" stroke="#fff" stroke-width="1" />
<line x1="487" y1="990" x2="487" y2="1070" stroke="#fff" stroke-width="1" />
<circle cx="484" cy="1052" r="9" fill="none" stroke="#fff" stroke-width="1.2" />
<polygon points="497.2,879.7 514.5,879.7 514.5,933.4 524.8,933.4 524.8,954.8 514.5,954.8 514.5,1072.8 504,1072.8 504,954.8 471.7,954.8 471.7,1072.8 462.8,1072.8 462.8,954.8 451,954.8 451,933.4 497.2,933.4" fill="url(#hatch)" stroke="#000" stroke-width="1" />
<rect x="499" y="882" width="5" height="51" fill="#fff" stroke="none" stroke-width="1" />
<rect x="453" y="935" width="47" height="5" fill="#fff" stroke="none" stroke-width="1" />
<rect x="449" y="1072.3" width="105" height="104.3" fill="url(#hatch)" stroke="#000" stroke-width="1.5" />
<rect x="451" y="1074" width="103" height="5.6" fill="#fff" stroke="none" stroke-width="1" />
<rect x="451" y="1074" width="7" height="101" fill="#fff" stroke="none" stroke-width="1" />
<rect x="451" y="1170.4" width="103" height="4.6" fill="#fff" stroke="none" stroke-width="1" />
<rect x="466.3" y="1088.6" width="87.7" height="72.9" fill="#fff" stroke="none" stroke-width="1" />
<rect x="472" y="1094.7" width="71" height="62.3" fill="#000" stroke="none" stroke-width="1" />
<line x1="476" y1="1097" x2="476" y2="1155" stroke="#fff" stroke-width="1.2" />
<line x1="482" y1="1097" x2="482" y2="1155" stroke="#fff" stroke-width="1.2" />
<line x1="488" y1="1097" x2="488" y2="1155" stroke="#fff" stroke-width="1.2" />
<line x1="494" y1="1097" x2="494" y2="1155" stroke="#fff" stroke-width="1.2" />
<line x1="500" y1="1097" x2="500" y2="1155" stroke="#fff" stroke-width="1.2" />
<line x1="506" y1="1097" x2="506" y2="1155" stroke="#fff" stroke-width="1.2" />
<line x1="512" y1="1097" x2="512" y2="1155" stroke="#fff" stroke-width="1.2" />
<line x1="518" y1="1097" x2="518" y2="1155" stroke="#fff" stroke-width="1.2" />
<line x1="500" y1="1098" x2="541" y2="1098" stroke="#fff" stroke-width="1.2" />
<line x1="504" y1="1104" x2="541" y2="1104" stroke="#fff" stroke-width="1.2" />
<line x1="508" y1="1110" x2="541" y2="1110" stroke="#fff" stroke-width="1.2" />
<line x1="512" y1="1116" x2="541" y2="1116" stroke="#fff" stroke-width="1.2" />
<line x1="516" y1="1122" x2="541" y2="1122" stroke="#fff" stroke-width="1.2" />
<line x1="520" y1="1128" x2="541" y2="1128" stroke="#fff" stroke-width="1.2" />
<line x1="524" y1="1134" x2="541" y2="1134" stroke="#fff" stroke-width="1.2" />
<line x1="472" y1="1094.7" x2="515" y2="1135" stroke="#fff" stroke-width="1.5" />
<rect x="515" y="1135" width="26" height="21" fill="#000" stroke="none" stroke-width="1" />
<rect x="543" y="1100" width="11" height="57" fill="#000" stroke="none" stroke-width="1" />
<rect x="546" y="1118" width="8" height="37" fill="none" stroke="#fff" stroke-width="1" />
<rect x="499.3" y="1176.6" width="14.7" height="42.4" fill="url(#hatch)" stroke="#000" stroke-width="1" />
<rect x="501" y="1176.6" width="3" height="42.4" fill="#fff" stroke="none" stroke-width="1" />
<rect x="514" y="1176.6" width="40" height="42.4" fill="#000" stroke="none" stroke-width="1" />
<line x1="534" y1="1178" x2="534" y2="1219" stroke="#fff" stroke-width="1" />
<line x1="516" y1="1198" x2="554" y2="1198" stroke="#fff" stroke-width="1" />
<line x1="516" y1="1178" x2="554" y2="1178" stroke="#fff" stroke-width="1" />
<line x1="516" y1="1178" x2="516" y2="1219" stroke="#fff" stroke-width="1" />
<rect x="361.75" y="1195" width="118.25" height="24" fill="url(#grav)" stroke="#333" stroke-width="1" />
<line x1="395" y1="1214" x2="420" y2="1203" stroke="#333" stroke-width="2" />
<line x1="399" y1="1212" x2="424" y2="1201" stroke="#333" stroke-width="2" />
<line x1="403" y1="1210" x2="428" y2="1199" stroke="#333" stroke-width="2" />
<circle cx="371.75" cy="1207" r="8" fill="#ffff00" stroke="#000" stroke-width="2.2" />
<rect x="311" y="1197" width="46.5" height="17.5" fill="#fff" stroke="none" stroke-width="1" />
<text x="313.2" y="1211.89" font-size="18.6" textLength="43.0" lengthAdjust="spacingAndGlyphs" font-family="Liberation Sans" stroke="#fff" stroke-width="0.25">Tun 3</text>
<rect x="716.4" y="728.6" width="145.6" height="150.9" fill="#fff" stroke="#555" stroke-width="1" />
<rect x="719" y="746" width="13.8" height="133.5" fill="url(#hatch)" stroke="none" stroke-width="1" />
<rect x="845" y="746" width="15" height="43" fill="url(#hatch)" stroke="none" stroke-width="1" />
<rect x="845" y="835" width="15" height="44.5" fill="url(#hatch)" stroke="none" stroke-width="1" />
<rect x="733" y="746" width="110" height="133.5" fill="#000" stroke="none" stroke-width="1" />
<rect x="739.7" y="729.5" width="96.3" height="4.3" fill="#000" stroke="none" stroke-width="1" />
<rect x="739.7" y="735.5" width="96.3" height="8.6" fill="#000" stroke="none" stroke-width="1" />
<line x1="742" y1="739.5" x2="834" y2="739.5" stroke="#fff" stroke-width="0.6" stroke-dasharray="6,2"/>
<rect x="845" y="789" width="7" height="45.7" fill="#000" stroke="none" stroke-width="1" />
<rect x="855" y="789" width="5" height="45.7" fill="#000" stroke="none" stroke-width="1" />
<rect x="736" y="753" width="104" height="79" fill="none" stroke="#fff" stroke-width="1.2" stroke-dasharray="5,3"/>
<path d="M777,752 Q761,760 764,800 L764,872 Q768,878 791,878 Q814,878 818,872 L818,800 Q821,760 805,752 Q791,748 777,752 Z" fill="none" stroke="#fff" stroke-width="1.5" />
<path d="M771,786 Q791,776 811,786" fill="none" stroke="#fff" stroke-width="1.3" />
<path d="M772,812 Q791,805 810,812" fill="none" stroke="#fff" stroke-width="1.3" />
<path d="M769,850 Q791,858 813,850" fill="none" stroke="#fff" stroke-width="1.3" />
<line x1="771" y1="786" x2="772" y2="850" stroke="#fff" stroke-width="1" />
<line x1="811" y1="786" x2="810" y2="850" stroke="#fff" stroke-width="1" />
<path d="M760,797 L768,794 M822,797 L814,794" fill="none" stroke="#fff" stroke-width="1.5" />
<rect x="751" y="758" width="13" height="22" fill="none" stroke="#fff" stroke-width="1.2" />
<rect x="741" y="863" width="11" height="15" fill="none" stroke="#fff" stroke-width="1.2" />
<rect x="719.8" y="707" width="16.4" height="8.2" fill="#ff0000" stroke="#333" stroke-width="0.8" />
<rect x="719.8" y="715.2" width="16.4" height="16.0" fill="#fd6a0a" stroke="#333" stroke-width="0.8" />
<rect x="841.4" y="707" width="16.4" height="8.2" fill="#ff0000" stroke="#333" stroke-width="0.8" />
<rect x="841.4" y="715.2" width="16.4" height="16.0" fill="#fd6a0a" stroke="#333" stroke-width="0.8" />
<path d="M781.4,728 A9.5,9.5 0 0 1 800.4,728 Z" fill="#daf26c" stroke="#333" stroke-width="1" />
<rect x="743" y="693.3" width="93.2" height="18.1" fill="#fff" stroke="none" stroke-width="1" />
<text x="745.2" y="708.49" font-size="18.6" textLength="89.7" lengthAdjust="spacingAndGlyphs" font-family="Liberation Sans" stroke="#fff" stroke-width="0.25">Прожектор</text>
<rect x="671" y="681.25" width="64" height="18.25" fill="#fff" stroke="none" stroke-width="1" />
<text x="673.2" y="696.51" font-size="18.6" textLength="60.5" lengthAdjust="spacingAndGlyphs" font-family="Liberation Sans" stroke="#fff" stroke-width="0.25">Tun 8,9</text>
<rect x="840" y="681.2" width="64" height="18.1" fill="#fff" stroke="none" stroke-width="1" />
<text x="842.2" y="696.39" font-size="18.6" textLength="60.5" lengthAdjust="spacingAndGlyphs" font-family="Liberation Sans" stroke="#fff" stroke-width="0.25">Tun 8,9</text>
<rect x="857.8" y="699" width="4.2" height="30" fill="#888" stroke="#333" stroke-width="0.8" />
<rect x="879.3" y="699.3" width="3.1" height="43.1" fill="#888" stroke="#333" stroke-width="0.8" />
<rect x="862" y="756.2" width="16" height="16.4" fill="#fd6a0a" stroke="#333" stroke-width="0.8" />
<rect x="881.4" y="754.6" width="47.6" height="17.4" fill="#fff" stroke="none" stroke-width="1" />
<text x="883.6" y="769.44" font-size="18.6" textLength="44.1" lengthAdjust="spacingAndGlyphs" font-family="Liberation Sans" stroke="#fff" stroke-width="0.25">Tun 8</text>
<rect x="862" y="901" width="16" height="16" fill="#fd6a0a" stroke="#333" stroke-width="0.8" />
<rect x="881.4" y="900" width="47.6" height="17.8" fill="#fff" stroke="none" stroke-width="1" />
<text x="883.6" y="915.04" font-size="18.6" textLength="44.1" lengthAdjust="spacingAndGlyphs" font-family="Liberation Sans" stroke="#fff" stroke-width="0.25">Tun 8</text>
<rect x="862" y="987.7" width="15.7" height="16.6" fill="#fd6a0a" stroke="#333" stroke-width="0.8" />
<rect x="877.7" y="987.7" width="7.1" height="16.6" fill="#ff0000" stroke="#333" stroke-width="0.8" />
<rect x="889.8" y="987" width="62.2" height="18.5" fill="#fff" stroke="none" stroke-width="1" />
<text x="892.0" y="1002.39" font-size="18.6" textLength="58.7" lengthAdjust="spacingAndGlyphs" font-family="Liberation Sans" stroke="#fff" stroke-width="0.25">Tun 8,9</text>
<rect x="862" y="1079.4" width="16" height="16.8" fill="#ffff00" stroke="#333" stroke-width="0.8" />
<rect x="881" y="1080" width="48" height="17.6" fill="#fff" stroke="none" stroke-width="1" />
<text x="883.2" y="1094.94" font-size="18.6" textLength="44.5" lengthAdjust="spacingAndGlyphs" font-family="Liberation Sans" stroke="#fff" stroke-width="0.25">Tun 7</text>
<rect x="862" y="1155.2" width="16" height="16.1" fill="#ffff00" stroke="#333" stroke-width="0.8" />
<rect x="881" y="1154" width="48" height="17.5" fill="#fff" stroke="none" stroke-width="1" />
<text x="883.2" y="1168.89" font-size="18.6" textLength="44.5" lengthAdjust="spacingAndGlyphs" font-family="Liberation Sans" stroke="#fff" stroke-width="0.25">Tun 7</text>
<rect x="862" y="1205.2" width="15.7" height="16.8" fill="#fd6a0a" stroke="#333" stroke-width="0.8" />
<rect x="877.7" y="1205.2" width="7.1" height="16.8" fill="#ff0000" stroke="#333" stroke-width="0.8" />
<rect x="889.8" y="1203" width="62.2" height="18" fill="#fff" stroke="none" stroke-width="1" />
<text x="892.0" y="1218.14" font-size="18.6" textLength="58.7" lengthAdjust="spacingAndGlyphs" font-family="Liberation Sans" stroke="#fff" stroke-width="0.25">Tun 8,9</text>
<circle cx="681.2" cy="832.8" r="9.5" fill="#0000ff" stroke="#113" stroke-width="0.8" />
<rect x="695" y="824" width="55" height="18.4" fill="#fff" stroke="none" stroke-width="1" />
<text x="697.2" y="839.34" font-size="18.6" textLength="51.5" lengthAdjust="spacingAndGlyphs" font-family="Liberation Sans" stroke="#fff" stroke-width="0.25">Tun 10</text>
<circle cx="681.2" cy="913.8" r="9.5" fill="#0000ff" stroke="#113" stroke-width="0.8" />
<rect x="695" y="905" width="55" height="18.4" fill="#fff" stroke="none" stroke-width="1" />
<text x="697.2" y="920.34" font-size="18.6" textLength="51.5" lengthAdjust="spacingAndGlyphs" font-family="Liberation Sans" stroke="#fff" stroke-width="0.25">Tun 10</text>
<rect x="643.7" y="853" width="16.8" height="16.8" fill="#ff0000" stroke="#333" stroke-width="0.8" />
<rect x="614.5" y="833" width="47.3" height="17.4" fill="#fff" stroke="none" stroke-width="1" />
<text x="616.7" y="847.84" font-size="18.6" textLength="43.8" lengthAdjust="spacingAndGlyphs" font-family="Liberation Sans" stroke="#fff" stroke-width="0.25">Tun 9</text>
<rect x="643.7" y="782" width="16.8" height="16" fill="#ff0000" stroke="#333" stroke-width="0.8" />
<rect x="641" y="763" width="47" height="16.5" fill="#fff" stroke="none" stroke-width="1" />
<text x="643.2" y="777.39" font-size="18.6" textLength="43.5" lengthAdjust="spacingAndGlyphs" font-family="Liberation Sans" stroke="#fff" stroke-width="0.25">Tun 9</text>
<rect x="524.2" y="916.4" width="16.6" height="16.0" fill="#ff0000" stroke="none" stroke-width="1" />
<rect x="564.3" y="916.4" width="16.5" height="16.0" fill="#ff0000" stroke="none" stroke-width="1" />
<rect x="504" y="896.2" width="46.6" height="17.6" fill="#fff" stroke="none" stroke-width="1" />
<text x="506.2" y="911.14" font-size="18.6" textLength="43.1" lengthAdjust="spacingAndGlyphs" font-family="Liberation Sans" stroke="#fff" stroke-width="0.25">Tun 9</text>
<rect x="554.5" y="896.2" width="47.8" height="17.6" fill="#fff" stroke="none" stroke-width="1" />
<text x="556.7" y="911.14" font-size="18.6" textLength="44.3" lengthAdjust="spacingAndGlyphs" font-family="Liberation Sans" stroke="#fff" stroke-width="0.25">Tun 9</text>
<rect x="499.4" y="862.8" width="16.3" height="15.2" fill="#ffff00" stroke="#333" stroke-width="0.8" />
<rect x="449.7" y="860.8" width="49.3" height="17.2" fill="#fff" stroke="none" stroke-width="1" />
<text x="451.9" y="875.54" font-size="18.6" textLength="45.8" lengthAdjust="spacingAndGlyphs" font-family="Liberation Sans" stroke="#fff" stroke-width="0.25">Tun 7</text>
<rect x="610.6" y="862.8" width="16.3" height="15.2" fill="#ffff00" stroke="#333" stroke-width="0.8" />
<rect x="561.7" y="861" width="48.3" height="17" fill="#fff" stroke="none" stroke-width="1" />
<text x="563.9" y="875.64" font-size="18.6" textLength="44.8" lengthAdjust="spacingAndGlyphs" font-family="Liberation Sans" stroke="#fff" stroke-width="0.25">Tun 7</text>
<rect x="480.3" y="898.3" width="16.0" height="16.0" fill="#ffff00" stroke="#333" stroke-width="0.8" />
<rect x="430.3" y="897" width="49.7" height="17.3" fill="#fff" stroke="none" stroke-width="1" />
<text x="432.5" y="911.79" font-size="18.6" textLength="46.2" lengthAdjust="spacingAndGlyphs" font-family="Liberation Sans" stroke="#fff" stroke-width="0.25">Tun 7</text>
<rect x="480.7" y="959" width="15.5" height="15.5" fill="#fd6a0a" stroke="#333" stroke-width="0.8" />
<rect x="430" y="956.5" width="50" height="16.8" fill="#fff" stroke="none" stroke-width="1" />
<text x="432.2" y="971.04" font-size="18.6" textLength="46.5" lengthAdjust="spacingAndGlyphs" font-family="Liberation Sans" stroke="#fff" stroke-width="0.25">Tun 8</text>
<rect x="432" y="1080.6" width="16.6" height="16.0" fill="#ffff00" stroke="#333" stroke-width="0.8" />
<rect x="379.25" y="1078.75" width="47.0" height="17.5" fill="#fff" stroke="none" stroke-width="1" />
<text x="381.45" y="1093.64" font-size="18.6" textLength="43.5" lengthAdjust="spacingAndGlyphs" font-family="Liberation Sans" stroke="#fff" stroke-width="0.25">Tun 7</text>
<rect x="432" y="1151" width="16.6" height="14.9" fill="#ffff00" stroke="#333" stroke-width="0.8" />
<rect x="379.25" y="1151.25" width="47.0" height="17.5" fill="#fff" stroke="none" stroke-width="1" />
<text x="381.45" y="1166.14" font-size="18.6" textLength="43.5" lengthAdjust="spacingAndGlyphs" font-family="Liberation Sans" stroke="#fff" stroke-width="0.25">Tun 7</text>
<rect x="463.5" y="1178.8" width="15.7" height="15.2" fill="#ffff00" stroke="#333" stroke-width="0.8" />
<rect x="414.5" y="1184.5" width="46.5" height="16.5" fill="#fff" stroke="none" stroke-width="1" />
<text x="416.7" y="1198.89" font-size="18.6" textLength="43.0" lengthAdjust="spacingAndGlyphs" font-family="Liberation Sans" stroke="#fff" stroke-width="0.25">Tun 7</text>
<rect x="480.4" y="1211.9" width="15.6" height="10.1" fill="#fd6a0a" stroke="#333" stroke-width="0.8" />
<rect x="430" y="1210" width="50" height="16" fill="#fff" stroke="none" stroke-width="1" />
<text x="432.2" y="1224.14" font-size="18.6" textLength="46.5" lengthAdjust="spacingAndGlyphs" font-family="Liberation Sans" stroke="#fff" stroke-width="0.25">Tun 8</text>
<rect x="528" y="114.5" width="47.75" height="18.0" fill="#fff" stroke="none" stroke-width="1" />
<text x="530.2" y="129.64" font-size="18.6" textLength="44.2" lengthAdjust="spacingAndGlyphs" font-family="Liberation Sans" stroke="#fff" stroke-width="0.25">Tun 2</text>
<rect x="617" y="114" width="46.75" height="18.5" fill="#fff" stroke="none" stroke-width="1" />
<text x="619.2" y="129.39" font-size="18.6" textLength="43.2" lengthAdjust="spacingAndGlyphs" font-family="Liberation Sans" stroke="#fff" stroke-width="0.25">Tun 2</text>
<rect x="735" y="105" width="47.5" height="17.5" fill="#fff" stroke="none" stroke-width="1" />
<text x="737.2" y="119.89" font-size="18.6" textLength="44.0" lengthAdjust="spacingAndGlyphs" font-family="Liberation Sans" stroke="#fff" stroke-width="0.25">Tun 2</text>
<rect x="911" y="104" width="49" height="18" fill="#fff" stroke="none" stroke-width="1" />
<text x="913.2" y="119.14" font-size="18.6" textLength="45.5" lengthAdjust="spacingAndGlyphs" font-family="Liberation Sans" stroke="#fff" stroke-width="0.25">Tun 2</text>
<path d="M547.5,143 A9.5,9.5 0 0 1 566.5,143 Z" fill="#daf26c" stroke="#333" stroke-width="1" />
<rect x="692" y="170" width="47" height="17.5" fill="#fff" stroke="none" stroke-width="1" />
<text x="694.2" y="184.89" font-size="18.6" textLength="43.5" lengthAdjust="spacingAndGlyphs" font-family="Liberation Sans" stroke="#fff" stroke-width="0.25">Tun 6</text>
<rect x="615" y="200" width="47.5" height="17.5" fill="#fff" stroke="none" stroke-width="1" />
<text x="617.2" y="214.89" font-size="18.6" textLength="44.0" lengthAdjust="spacingAndGlyphs" font-family="Liberation Sans" stroke="#fff" stroke-width="0.25">Tun 3</text>
<rect x="691" y="225.5" width="48" height="17.5" fill="#fff" stroke="none" stroke-width="1" />
<text x="693.2" y="240.39" font-size="18.6" textLength="44.5" lengthAdjust="spacingAndGlyphs" font-family="Liberation Sans" stroke="#fff" stroke-width="0.25">Tun 3</text>
<rect x="634.5" y="260" width="47.5" height="17.5" fill="#fff" stroke="none" stroke-width="1" />
<text x="636.7" y="274.89" font-size="18.6" textLength="44.0" lengthAdjust="spacingAndGlyphs" font-family="Liberation Sans" stroke="#fff" stroke-width="0.25">Tun 3</text>
<rect x="481" y="267" width="47" height="17.5" fill="#fff" stroke="none" stroke-width="1" />
<text x="483.2" y="281.89" font-size="18.6" textLength="43.5" lengthAdjust="spacingAndGlyphs" font-family="Liberation Sans" stroke="#fff" stroke-width="0.25">Tun 3</text>
<circle cx="508" cy="293.75" r="7.5" fill="#ffff00" stroke="#000" stroke-width="2.2" />
</g>
<line x1="967" y1="77" x2="967" y2="170" stroke="#e55" stroke-width="1.2" stroke-dasharray="10,3,2,3"/>
<line x1="990.5" y1="77" x2="990.5" y2="135" stroke="#000" stroke-width="0.8" />
<line x1="972.5" y1="129" x2="995" y2="129" stroke="#000" stroke-width="0.8" />
<text x="981" y="91" font-size="15" text-anchor="middle" fill="#000" font-family="Liberation Sans" transform="rotate(-90 981 86)">40</text>
<text x="983.2" y="257.14" font-size="18.6" textLength="43.0" lengthAdjust="spacingAndGlyphs" font-family="Liberation Sans" stroke="#fff" stroke-width="0.25">Tun 1</text>
<text x="980.2" y="484.14" font-size="18.6" textLength="90.5" lengthAdjust="spacingAndGlyphs" font-family="Liberation Sans" stroke="#fff" stroke-width="0.25">Прожектор</text>
<text x="976.2" y="711.64" font-size="18.6" textLength="92.0" lengthAdjust="spacingAndGlyphs" font-family="Liberation Sans" stroke="#fff" stroke-width="0.25">Прожектор</text>
<text x="978.0" y="938.64" font-size="18.6" textLength="43.7" lengthAdjust="spacingAndGlyphs" font-family="Liberation Sans" stroke="#fff" stroke-width="0.25">Tun 1</text>
<text x="978.0" y="1175.14" font-size="18.6" textLength="43.7" lengthAdjust="spacingAndGlyphs" font-family="Liberation Sans" stroke="#fff" stroke-width="0.25">Tun 1</text>
<rect x="50" y="19.5" width="1061" height="1600.0" fill="none" stroke="#000" stroke-width="4" />
<text x="421" y="52" font-size="27" text-anchor="start" fill="#000" font-family="Liberation Sans" textLength="318" lengthAdjust="spacingAndGlyphs" stroke="#fff" stroke-width="0.5">План освещения. Часть 1.</text>
<rect x="419" y="54.7" width="322.4" height="2.0" fill="#000" stroke="none" stroke-width="1" />
<text x="114" y="1254.5" font-size="26.5" text-anchor="start" fill="#000" font-family="Liberation Sans" textLength="283" lengthAdjust="spacingAndGlyphs" stroke="#fff" stroke-width="0.5">Условные обозначения:</text>
<rect x="113" y="1257.2" width="285" height="2.5" fill="#000" stroke="none" stroke-width="1" />
<path d="M126,1289 A9.5,9 0 0 1 145,1289 Z" fill="#daf26c" stroke="#333" stroke-width="1" />
<circle cx="137.7" cy="1317.8" r="8.5" fill="#ffff00" stroke="#000" stroke-width="2" />
<circle cx="137.7" cy="1350.5" r="9" fill="#7ff" stroke="#333" stroke-width="1.2" />
<circle cx="137.7" cy="1382.4" r="8.5" fill="#7d0a86" stroke="#000" stroke-width="2" />
<circle cx="137.7" cy="1414.5" r="8.5" fill="#0000ff" stroke="#000" stroke-width="2" />
<text x="155.7" y="1293" font-size="18.7" text-anchor="start" fill="#000" font-family="Liberation Sans" >- настенный светильник</text>
<text x="155.7" y="1324.5" font-size="18.7" text-anchor="start" fill="#000" font-family="Liberation Sans" >- уличный светильник H=80-120см</text>
<text x="155.7" y="1357" font-size="18.7" text-anchor="start" fill="#000" font-family="Liberation Sans" >- уличный светильник H=220см</text>
<text x="155.7" y="1389" font-size="18.7" text-anchor="start" fill="#000" font-family="Liberation Sans" >- подсветка деревьев</text>
<text x="155.7" y="1421" font-size="18.7" text-anchor="start" fill="#000" font-family="Liberation Sans" >- арт-светильник</text>
<rect x="576.4" y="1279.4" width="67.6" height="6.5" fill="#fd6a0a" stroke="#333" stroke-width="1" />
<rect x="576.4" y="1311.7" width="67.6" height="6.5" fill="#ffff00" stroke="#333" stroke-width="1" />
<rect x="576.4" y="1344" width="67.6" height="6.5" fill="#ff0000" stroke="#333" stroke-width="1" />
<polygon points="605.3,1391.5 624.7,1391.5 615,1373" fill="#ffff00" stroke="#e8501a" stroke-width="1.5" />
<text x="657" y="1290" font-size="18.7" text-anchor="start" fill="#000" font-family="Liberation Sans" >- освещение теплицы</text>
<text x="657" y="1322.5" font-size="18.7" text-anchor="start" fill="#000" font-family="Liberation Sans" >- светодиодная подсветка</text>
<text x="657" y="1354.5" font-size="18.7" text-anchor="start" fill="#000" font-family="Liberation Sans" >- конструкция со светодиодной подсветкой</text>
<text x="657" y="1386.5" font-size="18.7" text-anchor="start" fill="#000" font-family="Liberation Sans" >- влагозащищенная розетка</text>
<rect x="389" y="1405" width="721.5" height="214.5" fill="#fff" stroke="none" stroke-width="1" />
<line x1="389" y1="1405" x2="1110.5" y2="1405" stroke="#000" stroke-width="3.5" />
<line x1="389" y1="1424.4" x2="642.6" y2="1424.4" stroke="#000" stroke-width="1.5" />
<line x1="389" y1="1443.5" x2="1110.5" y2="1443.5" stroke="#000" stroke-width="3.5" />
<line x1="389" y1="1463.8" x2="642.6" y2="1463.8" stroke="#000" stroke-width="1.5" />
<line x1="389" y1="1483" x2="642.6" y2="1483" stroke="#000" stroke-width="3.5" />
<line x1="389" y1="1501.5" x2="642.6" y2="1501.5" stroke="#000" stroke-width="3.5" />
<line x1="642.6" y1="1503.4" x2="1110.5" y2="1503.4" stroke="#000" stroke-width="3.5" />
<line x1="389" y1="1521.7" x2="642.6" y2="1521.7" stroke="#000" stroke-width="1.5" />
<line x1="915.2" y1="1521.2" x2="1110.5" y2="1521.2" stroke="#000" stroke-width="3" />
<line x1="389" y1="1541.5" x2="642.6" y2="1541.5" stroke="#000" stroke-width="1.5" />
<line x1="389" y1="1561" x2="642.6" y2="1561" stroke="#000" stroke-width="1.5" />
<line x1="642.6" y1="1560.5" x2="1110.5" y2="1560.5" stroke="#000" stroke-width="3.5" />
<line x1="389" y1="1580.9" x2="642.6" y2="1580.9" stroke="#000" stroke-width="1.5" />
<line x1="389" y1="1600.2" x2="642.6" y2="1600.2" stroke="#000" stroke-width="1.5" />
<line x1="427.8" y1="1405" x2="427.8" y2="1501.5" stroke="#000" stroke-width="3.5" />
<line x1="506" y1="1405" x2="506" y2="1501.5" stroke="#000" stroke-width="3.5" />
<line x1="389" y1="1405" x2="389" y2="1619.5" stroke="#000" stroke-width="3.5" />
<line x1="466.9" y1="1405" x2="466.9" y2="1619.5" stroke="#000" stroke-width="3.5" />
<line x1="545" y1="1405" x2="545" y2="1619.5" stroke="#000" stroke-width="3.5" />
<line x1="603.8" y1="1405" x2="603.8" y2="1619.5" stroke="#000" stroke-width="3.5" />
<line x1="642.6" y1="1405" x2="642.6" y2="1619.5" stroke="#000" stroke-width="3.5" />
<line x1="915.2" y1="1503.4" x2="915.2" y2="1619.5" stroke="#000" stroke-width="3.5" />
<line x1="974.3" y1="1503.4" x2="974.3" y2="1560.5" stroke="#000" stroke-width="3.5" />
<line x1="1032.3" y1="1503.4" x2="1032.3" y2="1560.5" stroke="#000" stroke-width="3.5" />
<line x1="1110.5" y1="1405" x2="1110.5" y2="1619.5" stroke="#000" stroke-width="3.5" />
<text x="397.4" y="1497.6" font-size="13.5" textLength="22.4" lengthAdjust="spacingAndGlyphs" font-family="Liberation Sans">Изм.</text>
<text x="430.7" y="1497.6" font-size="13.5" textLength="34.3" lengthAdjust="spacingAndGlyphs" font-family="Liberation Sans">Кол.уч.</text>
<text x="473.6" y="1497.6" font-size="13.5" textLength="27.1" lengthAdjust="spacingAndGlyphs" font-family="Liberation Sans">Лист</text>
<text x="509" y="1497.6" font-size="13.5" textLength="33.2" lengthAdjust="spacingAndGlyphs" font-family="Liberation Sans">№Док.</text>
<text x="563" y="1497.6" font-size="13.5" textLength="28.2" lengthAdjust="spacingAndGlyphs" font-family="Liberation Sans">Подп.</text>
<text x="608" y="1497.6" font-size="13.5" textLength="30.3" lengthAdjust="spacingAndGlyphs" font-family="Liberation Sans">Дата</text>
<text x="405.3" y="1536" font-size="14" textLength="47.1" lengthAdjust="spacingAndGlyphs" font-family="Liberation Sans">Дизайнер</text>
<text x="392" y="1556" font-size="14" textLength="73" lengthAdjust="spacingAndGlyphs" font-family="Liberation Sans">Арт-директор</text>
<text x="405.3" y="1575" font-size="14" textLength="46.7" lengthAdjust="spacingAndGlyphs" font-family="Liberation Sans">Заказчик</text>
<text x="469.8" y="1536" font-size="14" textLength="73.2" lengthAdjust="spacingAndGlyphs" font-family="Liberation Sans">ВасинскаяЕ .С.</text>
<text x="469.3" y="1556" font-size="14" textLength="73.7" lengthAdjust="spacingAndGlyphs" font-family="Liberation Sans">ЗахлевнаяГ .Л.</text>
<text x="479.4" y="1575" font-size="14" textLength="53.9" lengthAdjust="spacingAndGlyphs" font-family="Liberation Sans">Баева А .П.</text>
<text x="782.8" y="1469.5" font-size="16.5" textLength="191.5" lengthAdjust="spacingAndGlyphs" font-family="Liberation Sans">г. Кемерово, Лесная поляна,</text>
<text x="809.7" y="1484" font-size="16.5" textLength="138.6" lengthAdjust="spacingAndGlyphs" font-family="Liberation Sans">ул. Заповедная, д. 8.</text>
<text x="650" y="1537.8" font-size="16.5" textLength="259" lengthAdjust="spacingAndGlyphs" font-family="Liberation Sans">Ландшафтный дизайн-проект участка</text>
<text x="923.4" y="1517" font-size="15" textLength="43.5" lengthAdjust="spacingAndGlyphs" font-family="Liberation Sans">Стадия</text>
<text x="989.6" y="1517" font-size="15" textLength="27.8" lengthAdjust="spacingAndGlyphs" font-family="Liberation Sans">Лист</text>
<text x="1051.7" y="1517" font-size="15" textLength="40.6" lengthAdjust="spacingAndGlyphs" font-family="Liberation Sans">Листов</text>
<text x="937" y="1546" font-size="14" textLength="16.6" lengthAdjust="spacingAndGlyphs" font-family="Liberation Sans">ДП</text>
<text x="996.7" y="1546" font-size="14" textLength="12.8" lengthAdjust="spacingAndGlyphs" font-family="Liberation Sans">44</text>
<text x="693" y="1595.7" font-size="17" textLength="172.5" lengthAdjust="spacingAndGlyphs" font-family="Liberation Sans">План освещения. Часть 1.</text>
<text x="956" y="1586.2" font-size="18" textLength="116.4" lengthAdjust="spacingAndGlyphs" font-family="Liberation Sans">Дизайн-студия</text>
<text x="967.5" y="1603.4" font-size="18" textLength="93.5" lengthAdjust="spacingAndGlyphs" font-family="Liberation Sans">"Art-Vision"</text>
</svg></body></html>
